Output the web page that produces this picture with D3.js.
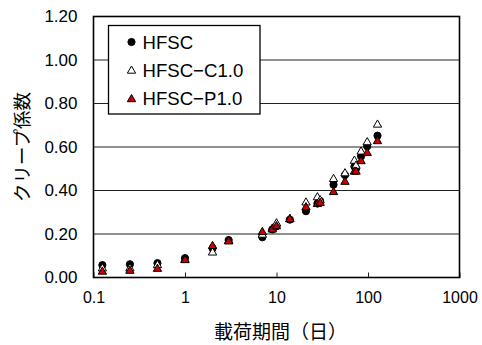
<!DOCTYPE html>
<html><head><meta charset="utf-8">
<script src="https://cdn.jsdelivr.net/npm/d3@7"></script>
<style>body{margin:0;background:#fff}svg{display:block}</style>
</head><body>
<script>
// Data
const seriesNames = ["HFSC", "HFSC\u2212C1.0", "HFSC\u2212P1.0"];
const daysHFSC = [0.125,0.25,0.5,1,2,3,7,9,10,14,21,28,30,42,56,71,74,84,98,127];
const valHFSC  = [0.057,0.061,0.066,0.089,0.134,0.172,0.185,0.221,0.236,0.266,0.305,0.34,0.352,0.427,0.471,0.51,0.5,0.557,0.603,0.652];
const daysC    = [0.125,0.25,0.5,1,2,3,7,9,10,14,21,28,30,42,56,71,74,84,98,127];
const valC     = [0.045,0.045,0.06,0.085,0.118,0.172,0.2,0.228,0.252,0.272,0.348,0.372,0.358,0.456,0.482,0.54,0.517,0.582,0.625,0.706];
const daysP    = [0.125,0.25,0.5,1,2,3,7,9,10,14,21,28,30,42,56,71,74,84,98,127];
const valP     = [0.03,0.034,0.043,0.083,0.148,0.169,0.212,0.224,0.239,0.271,0.326,0.341,0.346,0.396,0.443,0.49,0.49,0.538,0.576,0.63];
const xTicks = [0.1,1,10,100,1000];
const yTicks = [0,0.2,0.4,0.6,0.8,1.0,1.2];
const xTitle = "載荷期間（日）";
const yTitle = "クリープ係数";

const W=482,H=345;
const m={l:93.5,r:22.5,t:16.5,b:67.5};
const svg=d3.select("body").append("svg").attr("width",W).attr("height",H);
const x=d3.scaleLog().domain([0.1,1000]).range([m.l,W-m.r]);
const y=d3.scaleLinear().domain([0,1.2]).range([H-m.b,m.t]);
const numFont="'Liberation Sans', Arial, sans-serif";
const jpFont="'Noto Sans CJK JP', sans-serif";

// gridlines
svg.append("g").selectAll("line").data(yTicks.filter(v=>v>0&&v<1.2)).join("line")
  .attr("x1",m.l).attr("x2",W-m.r).attr("y1",d=>y(d)).attr("y2",d=>y(d))
  .attr("stroke","#222").attr("stroke-width",1);

// x axis
const xAxis=d3.axisBottom(x).tickValues(xTicks).tickFormat(d=>String(d)).tickSizeInner(-5).tickSizeOuter(0).tickPadding(14);
const gx=svg.append("g").attr("transform",`translate(0,${H-m.b})`).call(xAxis);
gx.select(".domain").remove();
gx.selectAll("line").attr("stroke","#222");
gx.selectAll("text").attr("font-family",numFont).attr("font-size",16).attr("fill","#000").attr("dy","0.71em");

// y axis
const yAxis=d3.axisLeft(y).tickValues(yTicks).tickFormat(d3.format(".2f")).tickSize(0).tickPadding(16);
const gy=svg.append("g").attr("transform",`translate(${m.l},0)`).call(yAxis);
gy.select(".domain").remove();
gy.selectAll("text").attr("font-family",numFont).attr("font-size",17).attr("fill","#000");

// frame
svg.append("rect").attr("x",m.l).attr("y",m.t).attr("width",W-m.l-m.r).attr("height",H-m.t-m.b)
  .attr("fill","none").attr("stroke","#000").attr("stroke-width",1.6);

// titles
svg.append("text").attr("x",(m.l+W-m.r)/2+4).attr("y",339).attr("text-anchor","middle")
  .attr("font-family",jpFont).attr("font-size",19).attr("fill","#000").text(xTitle);
svg.append("text").attr("transform",`translate(29,${(m.t+H-m.b)/2}) rotate(-90)`).attr("text-anchor","middle")
  .attr("font-family",jpFont).attr("font-size",18.5).attr("fill","#000").text(yTitle);

// markers
const tri=d3.symbol().type(d3.symbolTriangle).size(30);
const styles=[
  {shape:"circle",fill:"#000"},
  {shape:"tri",fill:"#fff"},
  {shape:"tri",fill:"#cc0000"}
];
function drawMarker(g,sx,sy,st){
  if(st.shape==="circle"){
    g.append("circle").attr("cx",sx).attr("cy",sy).attr("r",3.6).attr("fill",st.fill).attr("stroke","#000").attr("stroke-width",1);
  } else {
    g.append("path").attr("d",tri()).attr("transform",`translate(${sx},${sy+0.8})`).attr("fill",st.fill).attr("stroke","#000").attr("stroke-width",1);
  }
}
const all=[[daysHFSC,valHFSC],[daysC,valC],[daysP,valP]];
const pts=svg.append("g");
all.forEach((s,i)=>{
  s[0].forEach((d,j)=>drawMarker(pts,x(d),y(s[1][j]),styles[i]));
});

// legend
const lg=svg.append("g");
lg.append("rect").attr("x",108.5).attr("y",25.5).attr("width",151.5).attr("height",88.5)
  .attr("fill","#fff").attr("stroke","#000").attr("stroke-width",1.3);
const ly=[42,70,98.5];
seriesNames.forEach((n,i)=>{
  drawMarker(lg,131.5,ly[i],styles[i]);
  lg.append("text").attr("x",142.5).attr("y",ly[i]).attr("dy","0.36em")
    .attr("font-family",numFont).attr("font-size",18.6).attr("fill","#000").text(n);
});
</script>
</body></html>
